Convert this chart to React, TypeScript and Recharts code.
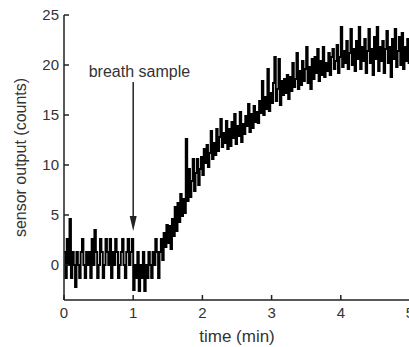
import { LineChart, Line, XAxis, YAxis, ReferenceLine, ReferenceDot } from "recharts";

// sensor counts, one sample every 0.02 min from 0 to 5 min
const baselineCounts = [
    1.3, -1.3, 2.6, 0, 4.6, -1.3, 1.3, 0, -2.2, 1.3,
    0, -1.3, 1.3, 2.6, 0, -1.3, 1.3, 0, 1.3, -1.3,
    2.6, 0, 3.5, 1.3, -1.3, 0, 2.6, 1.3, -1.3, 0,
    2.6, 1.3, 0, 2.6, -1.3, 1.3, 0, 2.6, 1.3, -1.3,
    0, 1.3, 2.6, 0, -1.3, 1.3, 2.6, 0, 1.3, 2.6,
    -2.5, 0, -1.3, 1.3, -2.6, 0, -1.3, 1.3, -2.6, 0,
    -1.3, 1.3, 0, -1.3, 1.3,
];

const riseCounts = [
    0, 2.6, 1.3, -1.3, 1.3,
    2.6, 0.5, 3.2, 1.8, 4.0, 2.2, 3.9, 1.6, 4.6, 2.9,
    5.8, 3.4, 6.2, 4.3, 7.1, 4.9, 6.6, 5.2, 12.6, 6.4,
    9.6, 6.8, 8.4, 10.6, 7.4, 9.2, 10.6, 8.0, 9.6, 10.8,
    9.0, 11.6, 10.2, 12.0, 9.8, 11.2, 13.4, 10.6, 12.2, 11.0,
    13.6, 11.4, 12.8, 14.6, 11.8, 13.2, 12.2, 14.4, 11.6, 13.6,
    11.9, 14.3, 12.7, 15.1, 12.1, 13.9, 12.9, 15.3, 12.3, 14.1,
    13.1, 14.9, 13.9, 16.1, 13.3, 15.1, 13.7, 15.9, 14.3, 15.3,
    14.2, 16.4, 15.2, 18.4, 15.0, 16.8, 15.6, 19.6, 15.4, 17.2,
    16.2, 18.2, 20.8, 16.4, 17.6, 20.6, 16.0, 18.4, 17.0, 18.6,
    17.2, 19.0, 16.6, 18.8, 17.4, 20.2, 17.8, 18.6, 21.2, 17.6,
];

const plateauCounts = [
    19.4, 18.0, 20.4, 18.4, 19.6, 21.8, 18.2, 19.8, 17.6, 20.6,
    18.6, 20.8, 19.2, 21.6, 18.4, 20.4, 19.0, 21.8, 18.8, 20.2,
    19.4, 21.2, 19.0, 20.8, 21.6, 19.6, 20.4, 22.0, 19.2, 20.8,
    23.8, 19.8, 21.4, 20.2, 22.4, 19.6, 21.2, 23.6, 20.0, 21.6,
    19.4, 22.4, 20.6, 23.8, 19.6, 21.8, 20.4, 22.6, 19.2, 21.4,
    23.6, 20.2, 21.6, 19.0, 22.8, 20.6, 23.8, 19.4, 21.8, 20.4,
    22.4, 19.2, 21.6, 23.4, 20.2, 21.8, 18.8, 22.6, 20.6, 23.6,
    19.8, 21.4, 22.8, 20.0, 23.2, 19.6, 21.8, 20.4, 22.6, 20.2, 21.6,
];

const sampleStep = 0.02; // min
const xTicks = [0, 1, 2, 3, 4, 5];
const yTicks = [0, 5, 10, 15, 20, 25];
const annotation = { text: "breath sample", time: 1 };

const counts = [...baselineCounts, ...riseCounts, ...plateauCounts];
const data = counts.map((v, i) => ({ t: +(i * sampleStep).toFixed(2), v }));

const ink = "#222";
const font = "'Liberation Sans', Arial, sans-serif";

const ArrowHead = (props: any) => {
    const { cx, cy } = props;
    return <polygon points={`${cx},${cy} ${cx - 3.5},${cy - 15} ${cx + 3.5},${cy - 15}`} fill={ink} />;
};

const NoteText = (props: any) => {
    const { cx, cy } = props;
    return (
        <text x={cx} y={cy} textAnchor="middle" dominantBaseline="central" fontSize={16} fontFamily={font} fill="#333">
            {annotation.text}
        </text>
    );
};

export default function App() {
    const tickStyle = { fontSize: 15, fontFamily: font, fill: "#333" };
    return (
        <div style={{ position: "fixed", left: 0, top: 0, width: 409, height: 347, overflow: "hidden", background: "#fff" }}>
            <LineChart width={420} height={347} data={data} margin={{ top: 15, right: 10, bottom: 17, left: 0 }}>
                <XAxis
                    dataKey="t"
                    type="number"
                    domain={[0, 5]}
                    ticks={xTicks}
                    height={30}
                    tickSize={-5}
                    tickMargin={12}
                    tick={tickStyle}
                    stroke={ink}
                    strokeWidth={1.5}
                    label={{ value: "time (min)", position: "bottom", offset: 0, fontSize: 17, fontFamily: font, fill: "#333" }}
                />
                <XAxis
                    xAxisId="top"
                    orientation="top"
                    dataKey="t"
                    type="number"
                    domain={[0, 5]}
                    ticks={xTicks}
                    height={0}
                    tickSize={-5}
                    tickFormatter={() => ""}
                    stroke={ink}
                    strokeWidth={1.5}
                />
                <YAxis
                    type="number"
                    domain={[-3.5, 25]}
                    ticks={yTicks}
                    width={64}
                    tickSize={-5}
                    tickMargin={10}
                    tick={tickStyle}
                    stroke={ink}
                    strokeWidth={1.5}
                    label={{ value: "sensor output (counts)", angle: -90, position: "center", dx: -12, fontSize: 16, fontFamily: font, fill: "#333" }}
                />
                <YAxis
                    yAxisId="right"
                    orientation="right"
                    type="number"
                    domain={[-3.5, 25]}
                    ticks={yTicks}
                    width={0}
                    tickSize={-5}
                    tickFormatter={() => ""}
                    stroke={ink}
                    strokeWidth={1.5}
                />
                <Line
                    dataKey="v"
                    type="stepAfter"
                    stroke="#000"
                    strokeWidth={2}
                    dot={false}
                    isAnimationActive={false}
                />
                <ReferenceLine
                    segment={[{ x: annotation.time, y: 18.3 }, { x: annotation.time, y: 4.9 }]}
                    stroke={ink}
                    strokeWidth={1.5}
                />
                <ReferenceDot x={annotation.time} y={3.4} r={0} shape={ArrowHead} />
                <ReferenceDot x={1.09} y={19.4} r={0} shape={NoteText} />
            </LineChart>
        </div>
    );
}
